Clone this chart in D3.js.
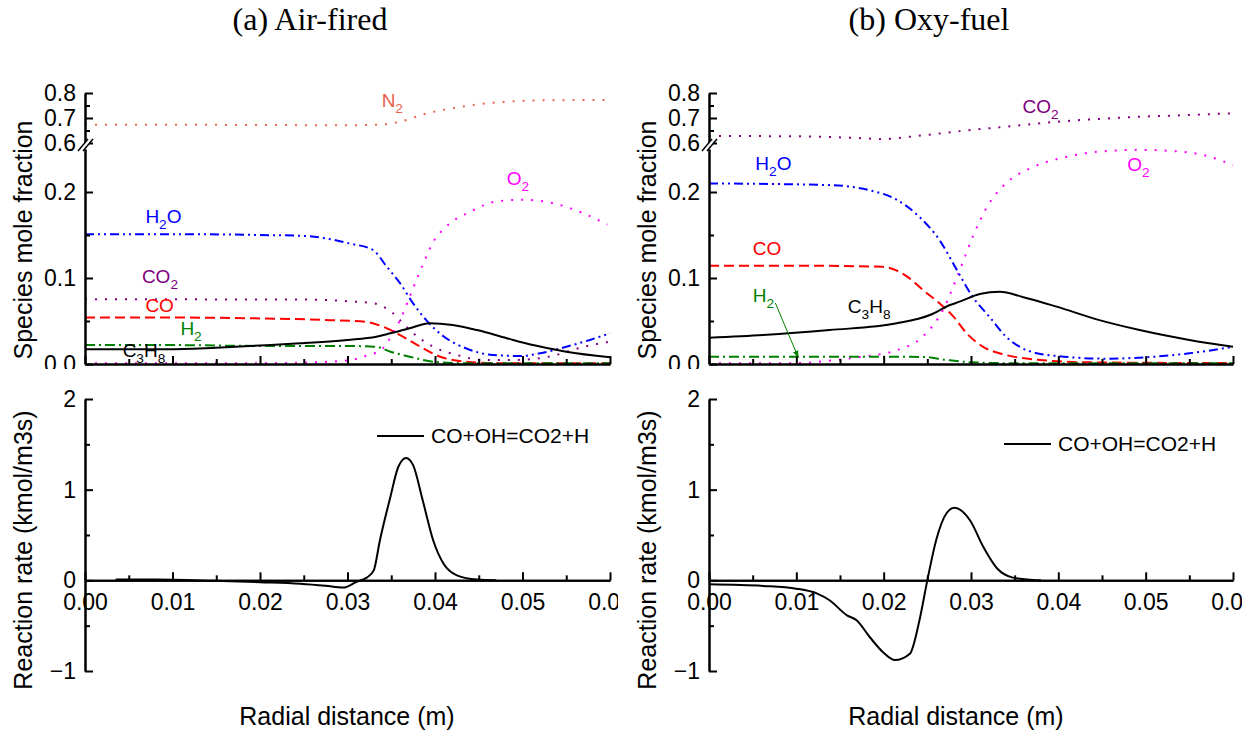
<!DOCTYPE html>
<html><head><meta charset="utf-8">
<script src="https://cdn.jsdelivr.net/npm/d3@7"></script>
<style>body{margin:0;background:#fff} svg{display:block}</style>
</head><body>
<svg id="c" width="1256" height="737"></svg>
<script>
// ---------------- data ----------------
const panelTitles = ["(a) Air-fired", "(b) Oxy-fuel"];
const xTicksMajor = [0, 0.01, 0.02, 0.03, 0.04, 0.05, 0.06];
const xTicksMinor = [0.005, 0.015, 0.025, 0.035, 0.045, 0.055];
const yLoMajor = [0, 0.1, 0.2];
const yLoMinor = [0.05, 0.15];
const yUpMajor = [0.6, 0.7, 0.8];
const yUpMinor = [0.65, 0.75];
const rateMajor = [-1, 0, 1, 2];
const rateMinor = [-0.5, 0.5, 1.5];
const legendText = "CO+OH=CO2+H";

// (a) Air-fired : [radial distance (m), mole fraction]
const airN2 = [[0,0.673],[0.010,0.673],[0.020,0.672],[0.030,0.671],[0.034,0.674],[0.0363,0.688],[0.0387,0.715],[0.0423,0.741],[0.046,0.759],[0.0494,0.768],[0.053,0.771],[0.06,0.772]];
const airO2 = [[0,0.001],[0.020,0.001],[0.026,0.002],[0.030,0.004],[0.032,0.009],[0.034,0.018],[0.0352,0.036],[0.036,0.051],[0.0371,0.078],[0.0385,0.113],[0.0398,0.142],[0.0413,0.160],[0.044,0.177],[0.047,0.189],[0.050,0.191],[0.0535,0.187],[0.057,0.175],[0.0597,0.162]];
const airH2O = [[0,0.151],[0.010,0.151],[0.020,0.150],[0.0249,0.149],[0.0303,0.140],[0.0329,0.1326],[0.0345,0.113],[0.036,0.094],[0.0375,0.0705],[0.039,0.051],[0.041,0.032],[0.0436,0.018],[0.0466,0.0105],[0.0497,0.0093],[0.052,0.0124],[0.055,0.020],[0.0577,0.028],[0.06,0.0357]];
const airCO2 = [[0,0.0752],[0.010,0.0752],[0.020,0.075],[0.0246,0.075],[0.030,0.073],[0.033,0.0705],[0.0352,0.059],[0.036,0.051],[0.0375,0.036],[0.0398,0.020],[0.0425,0.0105],[0.0455,0.0047],[0.049,0.0047],[0.053,0.0085],[0.057,0.020],[0.06,0.026]];
const airCO = [[0,0.054],[0.010,0.054],[0.020,0.053],[0.028,0.051],[0.032,0.049],[0.0345,0.0415],[0.036,0.0337],[0.038,0.022],[0.0406,0.0085],[0.0436,0.0027],[0.047,0.001],[0.06,0.001]];
const airH2 = [[0,0.022],[0.010,0.022],[0.020,0.021],[0.030,0.021],[0.0333,0.020],[0.0349,0.0143],[0.0371,0.0085],[0.0398,0.0027],[0.043,0.001],[0.06,0.001]];
const airC3H8 = [[0,0.0171],[0.0094,0.0171],[0.015,0.019],[0.020,0.0215],[0.0246,0.024],[0.030,0.028],[0.0333,0.0318],[0.0349,0.0357],[0.0371,0.0415],[0.0394,0.0473],[0.042,0.0453],[0.0448,0.0395],[0.0482,0.030],[0.0512,0.022],[0.055,0.0143],[0.06,0.0078]];
const airRate = [[0.0035,0.008],[0.008,0.008],[0.0147,-0.005],[0.020,-0.02],[0.0246,-0.037],[0.0275,-0.06],[0.0295,-0.08],[0.031,-0.018],[0.0322,0.03],[0.033,0.11],[0.0337,0.44],[0.0349,0.92],[0.0358,1.25],[0.0367,1.35],[0.0375,1.27],[0.0386,0.88],[0.0398,0.44],[0.041,0.18],[0.0425,0.055],[0.0448,0.008],[0.047,0.0]];

// (b) Oxy-fuel
const oxyCO2 = [[0,0.628],[0.010,0.627],[0.017,0.620],[0.020,0.616],[0.023,0.625],[0.0264,0.638],[0.030,0.652],[0.034,0.665],[0.0398,0.685],[0.045,0.697],[0.0493,0.705],[0.055,0.712],[0.06,0.719]];
const oxyO2 = [[0,0.001],[0.010,0.001],[0.014,0.004],[0.0176,0.0085],[0.0215,0.016],[0.0245,0.032],[0.0268,0.063],[0.0287,0.109],[0.0302,0.148],[0.0321,0.187],[0.034,0.21],[0.0371,0.229],[0.041,0.241],[0.0447,0.247],[0.0493,0.249],[0.0539,0.247],[0.057,0.242],[0.06,0.231]];
const oxyH2O = [[0,0.210],[0.0138,0.208],[0.0184,0.202],[0.0215,0.191],[0.0241,0.171],[0.0264,0.144],[0.0284,0.109],[0.0302,0.078],[0.0321,0.055],[0.034,0.032],[0.0364,0.016],[0.0398,0.0093],[0.0455,0.0062],[0.050,0.0078],[0.055,0.0124],[0.06,0.020]];
const oxyCO = [[0,0.1143],[0.010,0.1143],[0.0199,0.113],[0.0227,0.1016],[0.0245,0.086],[0.0264,0.0705],[0.028,0.055],[0.0295,0.0357],[0.0314,0.020],[0.034,0.0105],[0.0379,0.0047],[0.043,0.002],[0.06,0.001]];
const oxyH2 = [[0,0.0085],[0.010,0.0085],[0.020,0.0085],[0.0245,0.0082],[0.027,0.005],[0.030,0.002],[0.034,0.001],[0.06,0.001]];
const oxyC3H8 = [[0,0.0306],[0.0062,0.0337],[0.0138,0.0395],[0.0215,0.0473],[0.0253,0.057],[0.0276,0.0686],[0.0287,0.0725],[0.031,0.0814],[0.0333,0.084],[0.0359,0.078],[0.0398,0.0667],[0.0447,0.051],[0.0493,0.0395],[0.055,0.028],[0.06,0.020]];
const oxyRate = [[0,-0.044],[0.0062,-0.062],[0.010,-0.092],[0.0124,-0.147],[0.0138,-0.22],[0.0158,-0.386],[0.0169,-0.44],[0.0184,-0.625],[0.0199,-0.79],[0.0213,-0.88],[0.023,-0.81],[0.0241,-0.44],[0.025,0],[0.026,0.44],[0.0272,0.74],[0.0281,0.80],[0.0299,0.66],[0.0314,0.37],[0.033,0.13],[0.0348,0.03],[0.0371,0.005],[0.038,0]];

// species label anchors [x (m), value]
const airLabels = [["N_2",0.0339,0.744,"up"],["O_2",0.0482,0.208,"lo"],["H_2O",0.0069,0.164,"lo"],["CO_2",0.0065,0.0942,"lo"],["CO",0.0069,0.0605,"lo"],["H_2",0.0109,0.0337,"lo"],["C_3H_8",0.0043,0.0081,"lo"]];
const oxyLabels = [["CO_2",0.0359,0.72,"up"],["O_2",0.0479,0.2244,"lo"],["H_2O",0.0053,0.2256,"lo"],["CO",0.0050,0.1267,"lo"],["H_2",0.0050,0.0721,"lo"],["C_3H_8",0.0159,0.0593,"lo"]];
const oxyArrow = [[0.0076,0.0709],[0.0102,0.0081]];

// ---------------- styles ----------------
const FONT = "Arial, 'Liberation Sans', sans-serif";
const SERIF = "'Times New Roman', 'Liberation Serif', serif";
const colors = {N2:"#ec6550", O2:"#ff00ff", H2O:"#0000ff", CO2:"#800080", CO:"#ff0000", H2:"#008000", C3H8:"#000000"};
const dashes = {N2:"2,8", O2:"2,8", CO2:"2,8", H2O:"9,4,2,4,2,4", CO:"10,5", H2:"10,4,2,4", C3H8:null};
const labelColors = {N_2:"#e8604c", O_2:"#ff00ff", H_2O:"#0000ff", CO_2:"#800080", CO:"#ff0000", H_2:"#008000", C_3H_8:"#000000"};

const panels = [
  {title: panelTitles[0], titleX: 310, x0: 85, x1: 610, clipX0: 0, clipX1: 618, xTitle: 347, legX: 377, legY: 436,
   series: [["N2",airN2,"up"],["O2",airO2,"lo"],["CO2",airCO2,"lo"],["H2O",airH2O,"lo"],["CO",airCO,"lo"],["H2",airH2,"lo"],["C3H8",airC3H8,"lo"]],
   labels: airLabels, rate: airRate, arrow: null},
  {title: panelTitles[1], titleX: 929, x0: 709, x1: 1233, clipX0: 628, clipX1: 1242, xTitle: 956, legX: 1004, legY: 444,
   series: [["CO2",oxyCO2,"up"],["O2",oxyO2,"lo"],["H2O",oxyH2O,"lo"],["CO",oxyCO,"lo"],["H2",oxyH2,"lo"],["C3H8",oxyC3H8,"lo"]],
   labels: oxyLabels, rate: oxyRate, arrow: oxyArrow}
];

const svg = d3.select("#c");
const defs = svg.append("defs");
defs.append("marker").attr("id","arr").attr("viewBox","0 0 10 10").attr("refX",9).attr("refY",5)
  .attr("markerWidth",7).attr("markerHeight",7).attr("orient","auto")
  .append("path").attr("d","M0,1 L10,5 L0,9 Z").attr("fill","#008000");

const yUp = d3.scaleLinear().domain([0.6, 0.8]).range([143, 93]);
const yLo = d3.scaleLinear().domain([0, 0.25]).range([364, 149]);
const yRate = d3.scaleLinear().domain([-1, 2]).range([671, 399]);

function styleAxis(g, fs) {
  g.attr("font-family", FONT).attr("font-size", fs);
  g.selectAll("path, line").attr("stroke", "#000").attr("stroke-width", 2);
  g.selectAll("text").attr("fill", "#000");
}
function yAxis(g, scale, x0, major, minor, fmt) {
  const a = g.append("g").attr("transform", `translate(${x0},0)`)
    .call(d3.axisLeft(scale).tickValues(major).tickSizeInner(-8).tickSizeOuter(0).tickPadding(9).tickFormat(fmt));
  styleAxis(a, 23);
  const b = g.append("g").attr("transform", `translate(${x0},0)`)
    .call(d3.axisLeft(scale).tickValues(minor).tickSizeInner(-5).tickSizeOuter(0).tickFormat(""));
  styleAxis(b, 23);
}
function xAxis(g, scale, y0, labels) {
  const a = g.append("g").attr("transform", `translate(0,${y0})`)
    .call(d3.axisBottom(scale).tickValues(xTicksMajor).tickSizeInner(-8).tickSizeOuter(0).tickPadding(13)
      .tickFormat(labels ? d3.format(".2f") : ""));
  styleAxis(a, 23);
  const b = g.append("g").attr("transform", `translate(0,${y0})`)
    .call(d3.axisBottom(scale).tickValues(xTicksMinor).tickSizeInner(-5).tickSizeOuter(0).tickFormat(""));
  styleAxis(b, 23);
}
function chemLabel(g, str, x, y, color, fs) {
  const t = g.append("text").attr("x", x).attr("y", y).attr("fill", color)
    .attr("font-family", FONT).attr("font-size", fs);
  let sub = false, lowered = false;
  for (let i = 0; i < str.length; i++) {
    const ch = str[i];
    if (ch === "_") { sub = true; continue; }
    if (sub) {
      t.append("tspan").attr("dy", 6).attr("font-size", fs * 0.72).text(ch);
      sub = false; lowered = true;
      continue;
    }
    const s = t.append("tspan").text(ch);
    if (lowered) { s.attr("dy", -6); lowered = false; }
  }
}

panels.forEach((p, i) => {
  const x = d3.scaleLinear().domain([0, 0.06]).range([p.x0, p.x1]);

  // title
  svg.append("text").attr("x", p.titleX).attr("y", 30).attr("text-anchor", "middle")
    .attr("font-family", SERIF).attr("font-size", 32).attr("fill", "#000").text(p.title);

  // ---------- top panel ----------
  const cpTop = "clipTop" + i;
  defs.append("clipPath").attr("id", cpTop).append("rect")
    .attr("x", p.clipX0).attr("y", 40).attr("width", p.clipX1 - p.clipX0).attr("height", 329);
  const top = svg.append("g").attr("clip-path", `url(#${cpTop})`);

  const line = (ys) => d3.line().x(d => x(d[0])).y(d => ys(d[1])).curve(d3.curveMonotoneX);
  p.series.forEach(([name, data, seg]) => {
    const ys = seg === "up" ? yUp : yLo;
    top.append("path").attr("d", line(ys)(data)).attr("fill", "none")
      .attr("stroke", colors[name]).attr("stroke-width", 2)
      .attr("stroke-dasharray", dashes[name]);
  });

  yAxis(top, yUp, p.x0, yUpMajor, yUpMinor, d3.format(".1f"));
  yAxis(top, yLo, p.x0, yLoMajor, yLoMinor, d3.format(".1f"));
  xAxis(top, x, yLo(0), false);

  // axis break mark
  const bx = p.x0, by = (yUp(0.6) + yLo(0.25)) / 2;
  top.append("polygon").attr("points", `${bx-7},${by+5} ${bx+3},${by-7} ${bx+8},${by-7} ${bx-2},${by+5}`)
    .attr("fill", "#fff");
  [-7, -2].forEach(dx => {
    top.append("line").attr("x1", bx + dx).attr("y1", by + 5).attr("x2", bx + dx + 10).attr("y2", by - 7)
      .attr("stroke", "#000").attr("stroke-width", 1.5);
  });

  // species labels
  p.labels.forEach(([txt, lx, ly, seg]) => {
    chemLabel(top, txt, x(lx), (seg === "up" ? yUp : yLo)(ly), labelColors[txt], 19);
  });
  if (p.arrow) {
    top.append("line").attr("x1", x(p.arrow[0][0])).attr("y1", yLo(p.arrow[0][1]))
      .attr("x2", x(p.arrow[1][0])).attr("y2", yLo(p.arrow[1][1]))
      .attr("stroke", "#008000").attr("stroke-width", 1).attr("marker-end", "url(#arr)");
  }

  // y title
  top.append("text").attr("transform", `translate(${p.x0 - 53},240) rotate(-90)`)
    .attr("text-anchor", "middle").attr("font-family", FONT).attr("font-size", 25).attr("fill", "#000")
    .text("Species mole fraction");

  // ---------- bottom panel ----------
  const cpBot = "clipBot" + i;
  defs.append("clipPath").attr("id", cpBot).append("rect")
    .attr("x", p.clipX0).attr("y", 372).attr("width", p.clipX1 - p.clipX0).attr("height", 365);
  const bot = svg.append("g").attr("clip-path", `url(#${cpBot})`);

  yAxis(bot, yRate, p.x0, rateMajor, rateMinor, d3.format("d"));
  xAxis(bot, x, yRate(0), true);

  bot.append("path").attr("d", line(yRate)(p.rate)).attr("fill", "none")
    .attr("stroke", "#000").attr("stroke-width", 2);

  // legend
  bot.append("line").attr("x1", p.legX).attr("x2", p.legX + 47).attr("y1", p.legY).attr("y2", p.legY)
    .attr("stroke", "#000").attr("stroke-width", 2);
  bot.append("text").attr("x", p.legX + 54).attr("y", p.legY).attr("dy", "0.35em")
    .attr("font-family", FONT).attr("font-size", 21).attr("fill", "#000").text(legendText);

  bot.append("text").attr("transform", `translate(${p.x0 - 53},550) rotate(-90)`)
    .attr("text-anchor", "middle").attr("font-family", FONT).attr("font-size", 25).attr("fill", "#000")
    .text("Reaction rate (kmol/m3s)");
  bot.append("text").attr("x", p.xTitle).attr("y", 725).attr("text-anchor", "middle")
    .attr("font-family", FONT).attr("font-size", 25).attr("fill", "#000").text("Radial distance (m)");
});
</script>
</body></html>
